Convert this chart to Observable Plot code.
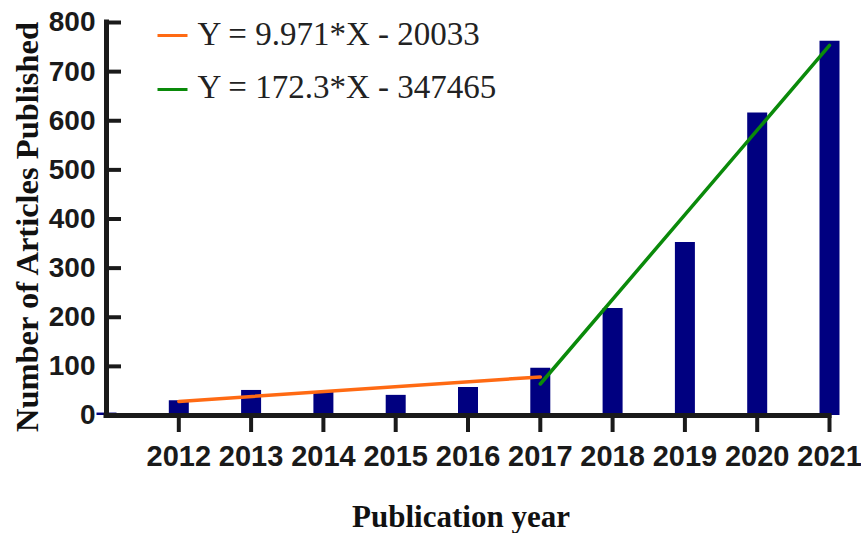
<!DOCTYPE html>
<html>
<head>
<meta charset="utf-8">
<script src="https://cdn.jsdelivr.net/npm/d3@7"></script>
<script src="https://cdn.jsdelivr.net/npm/@observablehq/plot@0.6"></script>
<style>
  html, body { margin: 0; padding: 0; background: #fff; }
  #chart svg { display: block; }
</style>
</head>
<body>
<div id="chart"></div>
<script>
// ---- Data ----
const years = [2011, 2012, 2013, 2014, 2015, 2016, 2017, 2018, 2019, 2020, 2021];
const articles = [5, 30, 51, 47, 41, 57, 96, 218, 352, 616, 762];
const xTickYears = [2012, 2013, 2014, 2015, 2016, 2017, 2018, 2019, 2020, 2021];
const yTicks = [0, 100, 200, 300, 400, 500, 600, 700, 800];

// Fitted lines (endpoints as drawn in the figure)
const fit1Years = [2012, 2017];
const fit1Values = [28.7, 78.6];
const fit2Years = [2017, 2021];
const fit2Values = [64.1, 753.3];
const legendLabels = ["Y = 9.971*X - 20033", "Y = 172.3*X - 347465"];
const legendColors = ["#ff6a13", "#0a8a0a"];

const barColor = "#000080";
const axisColor = "#1a1a1a";
const serif = "Liberation Serif, Times New Roman, serif";
const sans = "Liberation Sans, Arial, Helvetica, sans-serif";

const bars = years.map((y, i) => ({year: y, value: articles[i]}));
const fit1 = fit1Years.map((y, i) => ({year: y, value: fit1Values[i]}));
const fit2 = fit2Years.map((y, i) => ({year: y, value: fit2Values[i]}));
const legend = legendLabels.map((t, i) => ({label: t, color: legendColors[i], i}));

const legendSymbol = {
  draw(context) {
    context.moveTo(-15, 0);
    context.lineTo(15, 0);
  }
};

const chart = Plot.plot({
  width: 861,
  height: 533,
  marginLeft: 106,
  marginRight: 32,
  marginTop: 22,
  marginBottom: 118,
  style: {background: "#fff", overflow: "visible"},
  x: {domain: [2011, 2021], axis: null},
  y: {domain: [0, 800], axis: null},
  marks: [
    // bars
    Plot.ruleX(bars, {x: "year", y1: 0, y2: "value", stroke: barColor, strokeWidth: 20}),
    // fitted lines
    Plot.line(fit1, {x: "year", y: "value", stroke: legendColors[0], strokeWidth: 3.5}),
    Plot.line(fit2, {x: "year", y: "value", stroke: legendColors[1], strokeWidth: 3.5}),
    // axis lines
    Plot.ruleX([2011], {y1: 0, y2: 800, stroke: axisColor, strokeWidth: 5, strokeLinecap: "square"}),
    Plot.ruleY([0], {x1: 2011, x2: 2021, stroke: axisColor, strokeWidth: 5, strokeLinecap: "square"}),
    // y axis: ticks pointing inward
    Plot.axisY(yTicks, {
      anchor: "left",
      tickSize: -15,
      tickPadding: 26,
      strokeWidth: 4,
      stroke: axisColor,
      color: axisColor,
      fontSize: 28,
      fontWeight: "bold",
      fontFamily: sans,
      tickFormat: d => String(d),
      label: null
    }),
    // x axis
    Plot.axisX(xTickYears, {
      anchor: "bottom",
      tickSize: 17,
      tickPadding: 13,
      strokeWidth: 4,
      stroke: axisColor,
      color: axisColor,
      fontSize: 29,
      fontWeight: "bold",
      fontFamily: sans,
      tickFormat: d => String(d),
      label: null
    }),
    // axis titles
    Plot.text(["Number of Articles Published"], {
      frameAnchor: "left", rotate: -90, dx: -79, dy: 8,
      text: d => d, textAnchor: "middle", lineAnchor: "middle",
      fontFamily: serif, fontWeight: "bold", fontSize: 32.5, fill: "#111"
    }),
    Plot.text(["Publication year"], {
      frameAnchor: "bottom", dx: -7, dy: 102,
      text: d => d, textAnchor: "middle", lineAnchor: "middle",
      fontFamily: serif, fontWeight: "bold", fontSize: 31, fill: "#111"
    }),
    // legend
    Plot.dot(legend.slice(0, 1), {frameAnchor: "top-left", dx: 66, dy: 13, symbol: legendSymbol, r: 15, stroke: "color", strokeWidth: 3, fill: "none"}),
    Plot.dot(legend.slice(1, 2), {frameAnchor: "top-left", dx: 66, dy: 67, symbol: legendSymbol, r: 15, stroke: "color", strokeWidth: 3, fill: "none"}),
    Plot.text(legend.slice(0, 1), {frameAnchor: "top-left", dx: 91, dy: 12, text: "label", textAnchor: "start", lineAnchor: "middle", fontFamily: serif, fontSize: 33, fill: "#222"}),
    Plot.text(legend.slice(1, 2), {frameAnchor: "top-left", dx: 91, dy: 65, text: "label", textAnchor: "start", lineAnchor: "middle", fontFamily: serif, fontSize: 33, fill: "#222"})
  ]
});
document.getElementById("chart").appendChild(chart);
</script>
</body>
</html>
